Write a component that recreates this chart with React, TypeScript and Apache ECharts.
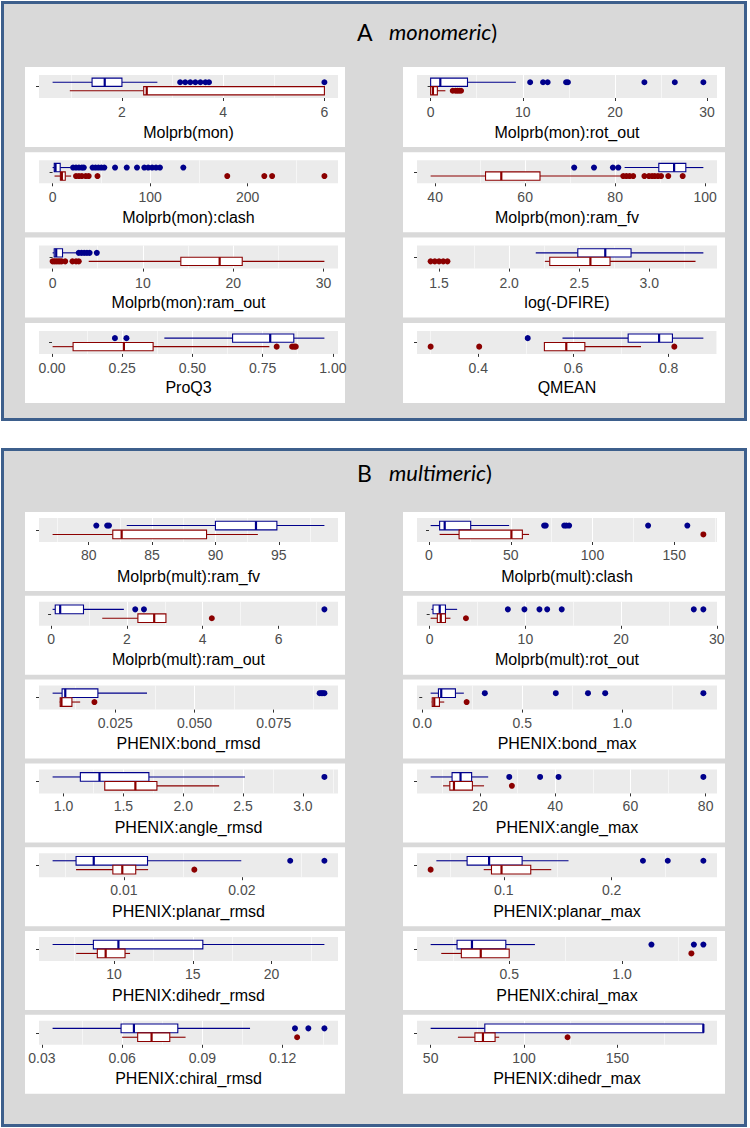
import { useEffect, useRef } from 'react';
import * as echarts from 'echarts';

const BLUE = '#00008B';
const RED = '#8B0000';

// ---------- Panel A (monomeric) ----------
const monNames = ['Molprb(mon)', 'Molprb(mon):rot_out', 'Molprb(mon):clash', 'Molprb(mon):ram_fv', 'Molprb(mon):ram_out', 'log(-DFIRE)', 'ProQ3', 'QMEAN'];
// [lower whisker, Q1, median, Q3, upper whisker]
const monBlue = [
  [0.63, 1.41, 1.66, 2.0, 2.7],
  [0, 0, 1.05, 4.0, 9.25],
  [0, 1.7, 3, 7.8, 18],
  [82.1, 89.7, 93.1, 95.7, 99.6],
  [0, 0.18, 0.4, 1.1, 2.8],
  [2.19, 2.49, 2.686, 2.87, 3.386],
  [0.4, 0.643, 0.777, 0.861, 0.97],
  [0.577, 0.715, 0.78, 0.808, 0.873],
];
const monRed = [
  [0.97, 2.43, 2.49, 6.0, 6.0],
  [0, 0, 0.25, 0.73, 1.6],
  [2, 8, 9.5, 13, 19],
  [39, 51.2, 54.7, 63.3, 81.6],
  [4.0, 14.2, 18.5, 21.0, 30.1],
  [2.255, 2.29, 2.58, 2.72, 3.33],
  [0.002, 0.075, 0.256, 0.36, 0.774],
  [0.539, 0.539, 0.585, 0.624, 0.742],
];
const monBlueOut = [
  [3.15, 3.25, 3.35, 3.45, 3.55, 3.65, 3.72, 6.0],
  [10.8, 12.2, 12.7, 14.7, 14.9, 23.2, 26.5, 29.6],
  [21, 24, 27, 30, 32, 41, 44, 47, 50, 53, 64, 76, 86.5, 94, 98, 102, 106, 110, 134],
  [70.9, 75.3, 79.5, 80.7],
  [2.9, 3.2, 3.5, 3.8, 4.1, 4.9],
  [],
  [0.224, 0.265],
  [0.504],
];
const monRedOut = [
  [],
  [2.4, 2.7, 2.9, 3.1, 3.3],
  [24, 27, 30, 34, 37, 46, 179, 217, 225, 278.6],
  [81.8, 82.5, 83.2, 84, 86.5, 87.5, 88.2, 88.8, 89.5, 90.2, 91.8, 95],
  [0, 0.2, 0.4, 0.6, 0.8, 1.0, 1.4, 2.2, 2.6, 2.9],
  [1.44, 1.47, 1.5, 1.53, 1.56],
  [0.8, 0.855, 0.862, 0.868],
  [0.3, 0.402, 0.812],
];
const monTicks = [
  ['2', '4', '6'],
  ['0', '10', '20', '30'],
  ['0', '100', '200'],
  ['40', '60', '80', '100'],
  ['0', '10', '20', '30'],
  ['1.5', '2.0', '2.5', '3.0'],
  ['0.00', '0.25', '0.50', '0.75', '1.00'],
  ['0.4', '0.6', '0.8'],
];

// ---------- Panel B (multimeric) ----------
const multNames = [
  'Molprb(mult):ram_fv', 'Molprb(mult):clash', 'Molprb(mult):ram_out', 'Molprb(mult):rot_out',
  'PHENIX:bond_rmsd', 'PHENIX:bond_max', 'PHENIX:angle_rmsd', 'PHENIX:angle_max',
  'PHENIX:planar_rmsd', 'PHENIX:planar_max', 'PHENIX:dihedr_rmsd', 'PHENIX:chiral_max',
  'PHENIX:chiral_rmsd', 'PHENIX:dihedr_max',
];
const multBlue = [
  [83.0, 90.0, 93.2, 94.85, 98.6],
  [1.0, 6.5, 9.6, 25.5, 49],
  [0.04, 0.11, 0.24, 0.855, 1.92],
  [0.18, 0.35, 1.05, 1.65, 2.87],
  [0.0052, 0.0082, 0.0092, 0.0195, 0.035],
  [0.042, 0.081, 0.095, 0.166, 0.208],
  [0.908, 1.14, 1.3, 1.713, 2.516],
  [6.9, 12.6, 14.85, 17.8, 22.2],
  [0.00395, 0.00594, 0.00744, 0.012, 0.01995],
  [0.0375, 0.066, 0.0864, 0.117, 0.16],
  [6.1, 8.69, 10.28, 15.64, 23.36],
  [0.152, 0.269, 0.335, 0.485, 0.614],
  [0.034, 0.0596, 0.0644, 0.0808, 0.1078],
  [50, 79, 196, 196, 196],
];
const multRed = [
  [77.15, 81.9, 82.6, 89.3, 93.35],
  [6.5, 18.4, 50.4, 57.1, 61.2],
  [1.35, 2.29, 2.72, 3.03, 3.03],
  [0.1, 0.8, 1.16, 1.65, 2.17],
  [0.0074, 0.0076, 0.008, 0.0113, 0.0139],
  [0.047, 0.05, 0.06, 0.086, 0.11],
  [1.344, 1.344, 1.6, 1.78, 2.3],
  [10.2, 12, 13.1, 18, 21.1],
  [0.00594, 0.00906, 0.00986, 0.011, 0.01205],
  [0.0814, 0.0886, 0.0979, 0.125, 0.144],
  [7.6, 8.94, 9.47, 10.7, 11.02],
  [0.199, 0.288, 0.374, 0.5, 0.5],
  [0.06, 0.0658, 0.071, 0.0778, 0.0837],
  [64.6, 73.7, 78, 84.5, 86.7],
];
const multBlueOut = [
  [80.6, 81.46, 81.6],
  [70.4, 71.4, 82.7, 84, 85.7, 134, 158],
  [2.22, 2.45, 7.21],
  [8.17, 9.9, 11.47, 12.28, 13.8, 27.6, 28.6],
  [0.0895, 0.09, 0.0905, 0.091],
  [0.313, 0.668, 0.829, 0.915, 1.406],
  [3.18],
  [27.8, 36, 40.9, 79.4],
  [0.0241, 0.027],
  [0.229, 0.252, 0.285],
  [],
  [1.13, 1.318, 1.36],
  [0.1246, 0.1296, 0.1356],
  [],
];
const multRedOut = [
  [],
  [167.8],
  [4.24],
  [3.79],
  [0.0184],
  [0.222],
  [],
  [28.5],
  [0.01597],
  [0.0322],
  [],
  [1.307],
  [0.1254],
  [123.3],
];
const multTicks = [
  ['80', '85', '90', '95'],
  ['0', '50', '100', '150'],
  ['0', '2', '4', '6'],
  ['0', '10', '20', '30'],
  ['0.025', '0.050', '0.075'],
  ['0.0', '0.5', '1.0'],
  ['1.0', '1.5', '2.0', '2.5', '3.0'],
  ['20', '40', '60', '80'],
  ['0.01', '0.02'],
  ['0.1', '0.2'],
  ['10', '15', '20'],
  ['0.5', '1.0'],
  ['0.03', '0.06', '0.09', '0.12'],
  ['50', '100', '150'],
];

const BLUE_Y = 1.37;
const RED_Y = 0.63;
const BOX_H = 0.72;

function makeRenderer(color: string) {
  return (_params: any, api: any) => {
    const y = api.value(0);
    const lo = api.coord([api.value(1), y]);
    const q1 = api.coord([api.value(2), y]);
    const md = api.coord([api.value(3), y]);
    const q3 = api.coord([api.value(4), y]);
    const hi = api.coord([api.value(5), y]);
    const h = Math.abs(api.size([0, BOX_H])[1]);
    const cy = lo[1];
    return {
      type: 'group',
      children: [
        { type: 'line', shape: { x1: lo[0], y1: cy, x2: q1[0], y2: cy }, style: { stroke: color, lineWidth: 1.1 } },
        { type: 'line', shape: { x1: q3[0], y1: cy, x2: hi[0], y2: cy }, style: { stroke: color, lineWidth: 1.1 } },
        { type: 'rect', shape: { x: q1[0], y: cy - h / 2, width: q3[0] - q1[0], height: h }, style: { fill: '#fff', stroke: color, lineWidth: 1.1 } },
        { type: 'line', shape: { x1: md[0], y1: cy - h / 2, x2: md[0], y2: cy + h / 2 }, style: { stroke: color, lineWidth: 2.2 } },
      ],
    };
  };
}

function buildOption() {
  const grids: any[] = [];
  const xAxes: any[] = [];
  const yAxes: any[] = [];
  const series: any[] = [];
  const graphics: any[] = [];

  // panel frames
  graphics.push({ type: 'rect', z: -30, shape: { x: 2.5, y: 2.5, width: 743, height: 417 }, style: { fill: '#D9D9D9', stroke: '#3D5F8C', lineWidth: 3 } });
  graphics.push({ type: 'rect', z: -30, shape: { x: 2.5, y: 449.5, width: 743, height: 676 }, style: { fill: '#D9D9D9', stroke: '#3D5F8C', lineWidth: 3 } });
  // titles
  const addTitle = (letter: string, word: string, y: number) => {
    graphics.push({ type: 'text', z: 10, x: 357, y, style: { text: letter, fontSize: 23, fontFamily: 'Lato', fill: '#000', verticalAlign: 'middle' } });
    graphics.push({
      type: 'text', z: 10, x: 389, y,
      style: {
        text: '{i|' + word + '}{n|)}', verticalAlign: 'middle', fill: '#000',
        rich: {
          i: { fontSize: 22, fontFamily: 'Lato', fontStyle: 'italic', fill: '#000' },
          n: { fontSize: 22, fontFamily: 'Lato', fill: '#000' },
        },
      },
    });
  };
  addTitle('A', 'monomeric', 31.5);
  addTitle('B', 'multimeric', 472.5);

  const addPlot = (
    name: string, blue: number[], red: number[], blueOut: number[], redOut: number[], ticks: string[],
    col: number, boxTop: number, boxH: number, gridOff: number, gridH: number, labelMargin: number,
  ) => {
    const idx = grids.length;
    const boxLeft = col === 0 ? 25 : 403;
    const boxW = col === 0 ? 320 : 322;
    const gridLeft = col === 0 ? 39 : 417;
    const gridW = col === 0 ? 299 : 300;
    graphics.push({ type: 'rect', z: -20, shape: { x: boxLeft, y: boxTop, width: boxW, height: boxH }, style: { fill: '#fff' } });
    grids.push({ left: gridLeft, top: boxTop + gridOff, width: gridW, height: gridH, show: true, backgroundColor: '#EBEBEB', borderWidth: 0 });
    const all = [...blue, ...red, ...blueOut, ...redOut];
    const lo = Math.min(...all);
    const hi = Math.max(...all);
    const pad = (hi - lo) * 0.05;
    const tickVals = ticks.map((t) => parseFloat(t));
    const iv = Number((tickVals[1] - tickVals[0]).toPrecision(6));
    const dec = (ticks[0].split('.')[1] || '').length;
    xAxes.push({
      type: 'value', gridIndex: idx, min: lo - pad, max: hi + pad, minInterval: iv, maxInterval: iv,
      axisLine: { show: false },
      axisTick: { show: true, length: 3, customValues: tickVals, lineStyle: { color: '#333', width: 1 } },
      axisLabel: {
        customValues: tickVals, color: '#4D4D4D', fontSize: 14, fontFamily: 'Liberation Sans', margin: labelMargin,
        formatter: (v: number) => v.toFixed(dec),
      },
      splitLine: { show: true, showMinLine: false, showMaxLine: false, lineStyle: { color: '#fff', width: 1.1 } },
      minorTick: { show: false, splitNumber: 2 },
      minorSplitLine: { show: true, lineStyle: { color: '#fff', width: 0.55 } },
      name, nameLocation: 'middle', nameGap: 26,
      nameTextStyle: { color: '#000', fontSize: 16, fontFamily: 'Liberation Sans', verticalAlign: 'top' },
    });
    yAxes.push({
      type: 'value', gridIndex: idx, min: 0, max: 2, interval: 1,
      axisLine: { show: false }, axisLabel: { show: false },
      axisTick: { show: true, length: 3, customValues: [1], lineStyle: { color: '#333', width: 1 } },
      splitLine: { show: true, showMinLine: false, showMaxLine: false, lineStyle: { color: '#fff', width: 1.1 } },
    });
    series.push({
      type: 'custom', xAxisIndex: idx, yAxisIndex: idx, renderItem: makeRenderer(BLUE), silent: true, z: 3,
      encode: { x: [1, 2, 3, 4, 5], y: 0 }, data: [[BLUE_Y, ...blue]],
    });
    series.push({
      type: 'custom', xAxisIndex: idx, yAxisIndex: idx, renderItem: makeRenderer(RED), silent: true, z: 3,
      encode: { x: [1, 2, 3, 4, 5], y: 0 }, data: [[RED_Y, ...red]],
    });
    series.push({
      type: 'scatter', xAxisIndex: idx, yAxisIndex: idx, symbolSize: 6, silent: true, z: 4,
      itemStyle: { color: BLUE, opacity: 1 }, data: blueOut.map((v) => [v, BLUE_Y]),
    });
    series.push({
      type: 'scatter', xAxisIndex: idx, yAxisIndex: idx, symbolSize: 6, silent: true, z: 4,
      itemStyle: { color: RED, opacity: 1 }, data: redOut.map((v) => [v, RED_Y]),
    });
  };

  monNames.forEach((n, i) => {
    const row = Math.floor(i / 2);
    const col = i % 2;
    addPlot(n, monBlue[i], monRed[i], monBlueOut[i], monRedOut[i], monTicks[i], col, 67 + row * 85.3, 80, 8, 23, 7);
  });
  multNames.forEach((n, i) => {
    const row = Math.floor(i / 2);
    const col = i % 2;
    addPlot(n, multBlue[i], multRed[i], multBlueOut[i], multRedOut[i], multTicks[i], col, 512 + row * 83.8, 79, 6, 24, 6);
  });

  return {
    animation: false,
    backgroundColor: '#fff',
    grid: grids,
    xAxis: xAxes,
    yAxis: yAxes,
    series,
    graphic: { elements: graphics },
  };
}

export default function App() {
  const ref = useRef<HTMLDivElement>(null);
  useEffect(() => {
    if (!ref.current) return;
    const chart = echarts.init(ref.current, undefined, { renderer: 'svg' });
    chart.setOption(buildOption() as any);
    return () => chart.dispose();
  }, []);
  return <div ref={ref} style={{ position: 'absolute', left: 0, top: 0, width: 750, height: 1128 }} />;
}
